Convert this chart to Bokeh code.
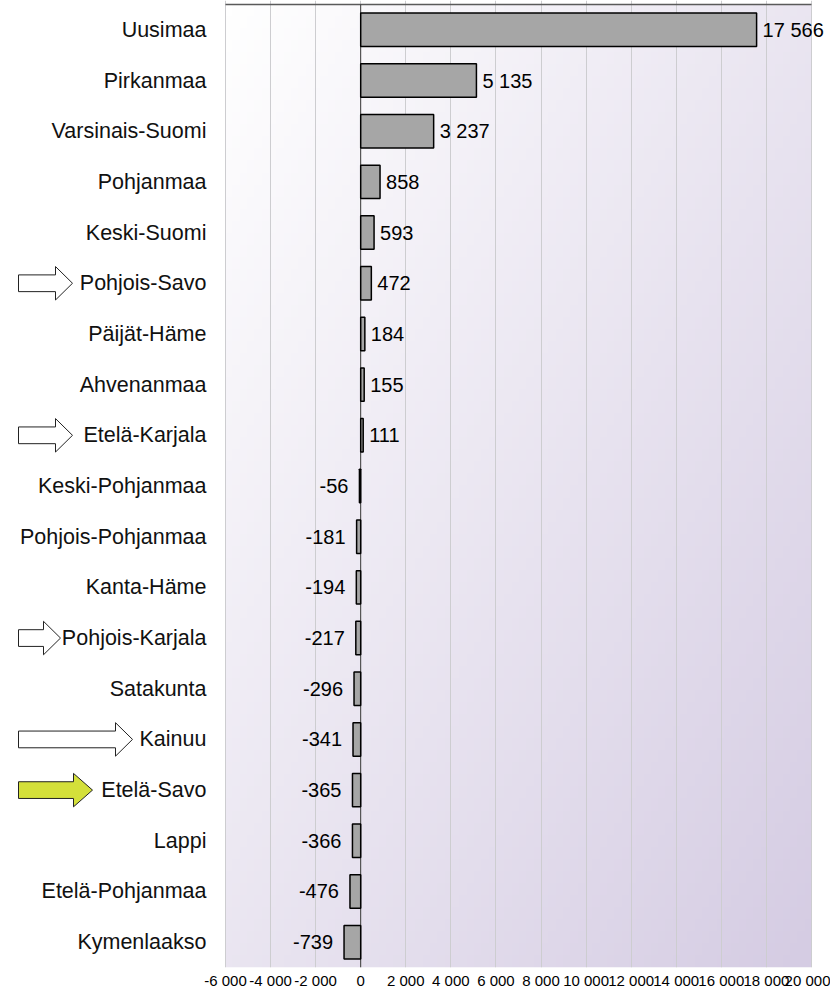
import numpy as np
from bokeh.plotting import figure
from bokeh.models import Range1d, FixedTicker
from bokeh.core.properties import value
from bokeh.embed import file_html
from bokeh.resources import INLINE

# ---- data ----
categories = ["Uusimaa", "Pirkanmaa", "Varsinais-Suomi", "Pohjanmaa", "Keski-Suomi",
              "Pohjois-Savo", "Päijät-Häme", "Ahvenanmaa", "Etelä-Karjala",
              "Keski-Pohjanmaa", "Pohjois-Pohjanmaa", "Kanta-Häme", "Pohjois-Karjala",
              "Satakunta", "Kainuu", "Etelä-Savo", "Lappi", "Etelä-Pohjanmaa", "Kymenlaakso"]
values = [17566, 5135, 3237, 858, 593, 472, 184, 155, 111,
          -56, -181, -194, -217, -296, -341, -365, -366, -476, -739]
value_labels = ["17 566", "5 135", "3 237", "858", "593", "472", "184", "155", "111",
                "-56", "-181", "-194", "-217", "-296", "-341", "-365", "-366", "-476", "-739"]
tick_values = [-6000, -4000, -2000, 0, 2000, 4000, 6000, 8000, 10000,
               12000, 14000, 16000, 18000, 20000]
tick_labels = ["-6 000", "-4 000", "-2 000", "0", "2 000", "4 000", "6 000", "8 000",
               "10 000", "12 000", "14 000", "16 000", "18 000", "20 000"]
# highlighted regions (arrow markers): name, arrow length in px, fill colour
arrow_rows = [("Pohjois-Savo", 54, "white"), ("Etelä-Karjala", 54, "white"),
              ("Pohjois-Karjala", 42, "white"), ("Kainuu", 114, "white"),
              ("Etelä-Savo", 74, "#d4e03a")]

FONT = "Liberation Sans"
W, H = 830, 991
UPP = 44.37                       # data units per pixel
ZERO_PX = 360.2                   # pixel position of x = 0
X_START = -ZERO_PX * UPP
X_END = (W - ZERO_PX) * UPP
n = len(categories)
ypos = [n - 1 - i for i in range(n)]
AX_MIN, AX_MAX = tick_values[0], tick_values[-1]
ROW_PX = 50.7

p = figure(width=W, height=H, output_backend="svg", toolbar_location=None,
           x_range=Range1d(X_START, X_END),
           y_range=Range1d(-0.5, n - 0.5 + 4.0 / ROW_PX),
           min_border_left=0, min_border_right=0, min_border_top=0, min_border_bottom=0)
p.outline_line_color = None
p.background_fill_color = "white"
p.border_fill_color = "white"
p.yaxis.visible = False
p.ygrid.grid_line_color = None

# gradient plot-area background
nx, ny = 80, 80
fx = np.linspace(0, 1, nx)[None, :]
fy = np.linspace(0, 1, ny)[:, None]
t = (fx + (1 - fy)) / 2.0
start = np.array([255, 255, 255], dtype=float)
end = np.array([213, 204, 227], dtype=float)
img = np.zeros((ny, nx), dtype=np.uint32)
view = img.view(dtype=np.uint8).reshape((ny, nx, 4))
for k in range(3):
    view[:, :, k] = (start[k] * (1 - t) + end[k] * t).astype(np.uint8)
view[:, :, 3] = 255
r_img = p.image_rgba(image=[img], x=AX_MIN, y=-0.5, dw=AX_MAX - AX_MIN, dh=n)
r_img.level = "image"

# grid
p.xgrid.ticker = FixedTicker(ticks=tick_values)
p.xgrid.grid_line_color = "#cdcdd0"
p.xgrid.grid_line_width = 1

# axis
p.xaxis.ticker = FixedTicker(ticks=tick_values)
p.xaxis.major_label_overrides = {v: l for v, l in zip(tick_values, tick_labels)}
p.xaxis.axis_line_color = None
p.xaxis.major_tick_line_color = None
p.xaxis.minor_tick_line_color = None
p.xaxis.major_tick_out = 0
p.xaxis.major_tick_in = 0
p.xaxis.minor_tick_out = 0
p.xaxis.major_label_text_font = FONT
p.xaxis.major_label_text_font_size = "15px"
p.xaxis.major_label_text_color = "black"
p.xaxis.major_label_standoff = 4

# top border and zero line
p.segment(x0=AX_MIN, y0=n - 0.5, x1=AX_MAX, y1=n - 0.5, line_color="#5a5a5a", line_width=1.3)
p.segment(x0=0, y0=-0.5, x1=0, y1=n - 0.5, line_color="#3a3a3a", line_width=1)

# bars
p.hbar(y=ypos, left=0, right=values, height=0.66, fill_color="#a6a6a6",
       line_color="black", line_width=1.5)

# value labels
pos_y = [y for y, v in zip(ypos, values) if v >= 0]
pos_v = [v for v in values if v >= 0]
pos_l = [l for l, v in zip(value_labels, values) if v >= 0]
neg_y = [y for y, v in zip(ypos, values) if v < 0]
neg_v = [v for v in values if v < 0]
neg_l = [l for l, v in zip(value_labels, values) if v < 0]
p.text(x=pos_v, y=pos_y, text=pos_l, x_offset=6, text_align="left", text_baseline="middle",
       text_font=value(FONT), text_font_size="20px", text_color="black")
p.text(x=neg_v, y=neg_y, text=neg_l, x_offset=-11, text_align="right", text_baseline="middle",
       text_font=value(FONT), text_font_size="20px", text_color="black")

# category labels
p.text(x=AX_MIN, y=ypos, text=categories, x_offset=-19, text_align="right",
       text_baseline="middle", text_font=value(FONT), text_font_size="21.5px",
       text_color="#111111")

# arrow markers
def px2x(px):
    return X_START + px * UPP

xs_list, ys_list, fills = [], [], []
for name, length, fill in arrow_rows:
    c = ypos[categories.index(name)]
    a = px2x(18)
    b = px2x(18 + length)
    h = (17 if fill == "white" else 19) * UPP
    s, hh = 0.165, 0.33
    xs_list.append([a, b - h, b - h, b, b - h, b - h, a])
    ys_list.append([c + s, c + s, c + hh, c, c - hh, c - s, c - s])
    fills.append(fill)
p.patches(xs=xs_list, ys=ys_list, fill_color=fills, line_color="#222222", line_width=1)

open("out.html", "w").write(file_html(p, INLINE))
